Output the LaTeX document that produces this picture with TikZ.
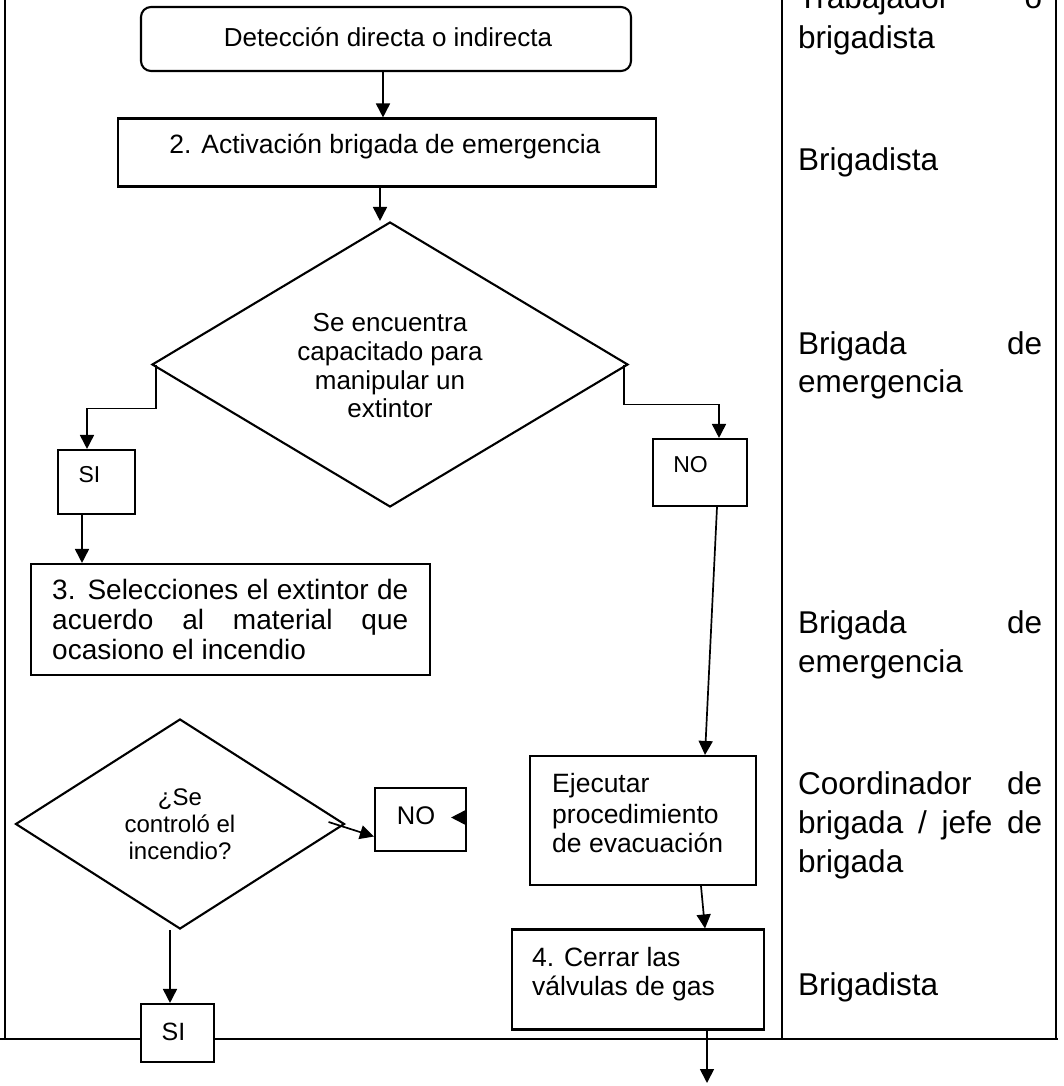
\documentclass[tikz,border=0pt]{standalone}
\usepackage{fontspec}
\setmainfont{Liberation Sans}
\usetikzlibrary{shapes.geometric,arrows.meta}
\newcommand\fsz[2]{\fontsize{#1}{#2}\selectfont}
\tikzset{
  box/.style={draw, rectangle, line width=2.1pt, fill=white, inner sep=0pt},
  dia/.style={draw, diamond, line width=2.1pt, inner sep=0pt},
  arr/.style={line width=1.7pt, -{Triangle[length=14pt,width=14pt]}},
  tbl/.style={line width=2.9pt},
  ctxt/.style={inner sep=0pt, anchor=base},
  ltxt/.style={inner sep=0pt, anchor=base west},
}
\begin{document}
\begin{tikzpicture}[x=1pt,y=-1pt]
\useasboundingbox (0,0) rectangle (1063,1086);
\clip (0,0) rectangle (1063,1086);

% table frame
\draw[tbl] (5,0) -- (5,1039);
\draw[tbl] (782,0) -- (782,1039);
\draw[tbl] (1056,0) -- (1056,1039);
\draw[tbl] (0,1039) -- (1058,1039);

% right column texts
\begin{scope}[font=\fsz{31.5}{39}]
\node[ltxt] (r1a) at (798,9) {\makebox[244pt][s]{Trabajador o}};
\node[ltxt] (r1b) at (798,48.5) {brigadista};
\node[ltxt] (r2) at (798,170.5) {Brigadista};
\node[ltxt] (r3a) at (798,354) {\makebox[244pt][s]{Brigada de}};
\node[ltxt] (r3b) at (798,392.5) {emergencia};
\node[ltxt] (r4a) at (798,633.5) {\makebox[244pt][s]{Brigada de}};
\node[ltxt] (r4b) at (798,672) {emergencia};
\node[ltxt] (r5a) at (798,794) {\makebox[244pt][s]{Coordinador de}};
\node[ltxt] (r5b) at (798,833) {\makebox[244pt][s]{brigada / jefe de}};
\node[ltxt] (r5c) at (798,872) {brigada};
\node[ltxt] (r6) at (798,995) {Brigadista};
\end{scope}

% shapes
\node[box, rounded corners=10pt, minimum width=490pt, minimum height=64pt] (b1) at (386,39) {};
\node[box, minimum width=538pt, minimum height=68pt] (b2) at (387,152.5) {};
\node[dia, minimum width=476pt, minimum height=285pt] (d1) at (390,364.5) {};
\node[box, minimum width=77pt, minimum height=64pt] (si1) at (96.5,482) {};
\node[box, minimum width=94pt, minimum height=67pt] (no1) at (700,472.5) {};
\node[box, minimum width=399pt, minimum height=111pt] (b3) at (230.5,619.5) {};
\node[dia, minimum width=329pt, minimum height=210pt] (d2) at (180,824) {};
\node[box, minimum width=91pt, minimum height=63pt] (no2) at (420.5,819.5) {};
\node[box, minimum width=73pt, minimum height=58pt] (si2) at (177.5,1033) {};
\node[box, minimum width=226pt, minimum height=129pt] (ej) at (643,820.5) {};
\node[box, minimum width=252pt, minimum height=100pt] (ce) at (638,979.5) {};

% texts in shapes
\node[ctxt, font=\fsz{26}{30}] (t1) at (388,47) {Detección directa o indirecta};
\node[ctxt, font=\fsz{26.5}{30}] (t2) at (385,154) {2. Activación brigada de emergencia};
\begin{scope}[font=\fsz{26}{29}]
\node[ctxt] (t3a) at (390,331.5) {Se encuentra};
\node[ctxt] (t3b) at (390,360.5) {capacitado para};
\node[ctxt] (t3c) at (390,389) {manipular un};
\node[ctxt] (t3d) at (390,417) {extintor};
\end{scope}
\node[ctxt, font=\fsz{23}{26}] (tsi1) at (89.5,482) {SI};
\node[ctxt, font=\fsz{23}{26}] (tno1) at (690.5,472) {NO};
\begin{scope}[font=\fsz{28}{30}]
\node[ltxt] (t4a) at (52,599) {\makebox[356pt][s]{3. Selecciones el extintor de}};
\node[ltxt] (t4b) at (52,629) {\makebox[356pt][s]{acuerdo al material que}};
\node[ltxt] (t4c) at (52,659) {ocasiono el incendio};
\end{scope}
\begin{scope}[font=\fsz{24}{27}]
\node[ctxt] (t5a) at (180,805) {¿Se};
\node[ctxt] (t5b) at (180,832) {controló el};
\node[ctxt] (t5c) at (180,859) {incendio?};
\end{scope}
\node[ctxt, font=\fsz{25.5}{28}] (tno2) at (416,824) {NO};
\node[ctxt, font=\fsz{25}{28}] (tsi2) at (173.5,1040) {SI};
\begin{scope}[font=\fsz{26.5}{30}]
\node[ltxt] (t6a) at (552,792) {Ejecutar};
\node[ltxt] (t6b) at (552,823) {procedimiento};
\node[ltxt] (t6c) at (552,852) {de evacuación};
\node[ltxt] (t7a) at (532,966) {4. Cerrar las};
\node[ltxt] (t7b) at (532,995) {válvulas de gas};
\end{scope}

% connectors
\coordinate (fin) at (707,1083);
\draw[arr] ([xshift=-3pt]b1.south) -- ([xshift=-3pt]b1.south |- b2.north);
\draw[arr] ([xshift=-7pt]b2.south) -- ([xshift=-7pt]b2.south |- d1.north);
\draw[arr] ([xshift=5pt]d1.west) -- ++(0,44) -| ([xshift=-9.5pt]si1.north);
\draw[arr] ([xshift=-5pt]d1.east) -- ++(0,40) -| ([xshift=19pt]no1.north);
\draw[arr] ([xshift=-14.5pt]si1.south) -- ([xshift=-14.5pt]si1.south |- b3.north);
\draw[arr] ([xshift=17pt]no1.south) -- ([xshift=62pt]ej.north);
\draw[arr] ([xshift=58pt]ej.south) -- ([xshift=67pt]ce.north);
\draw[arr] ([xshift=69pt]ce.south) -- (fin);
\draw[arr] ([xshift=-17pt,yshift=2pt]d2.east) -- ([yshift=-17pt]no2.west);
\draw[arr] ([xshift=-2pt,yshift=2pt]no2.east) -- ([xshift=-16pt,yshift=2pt]no2.east);
\draw[arr] ([xshift=-10pt]d2.south) -- ([xshift=-10pt]d2.south |- si2.north);
\end{tikzpicture}
\end{document}
